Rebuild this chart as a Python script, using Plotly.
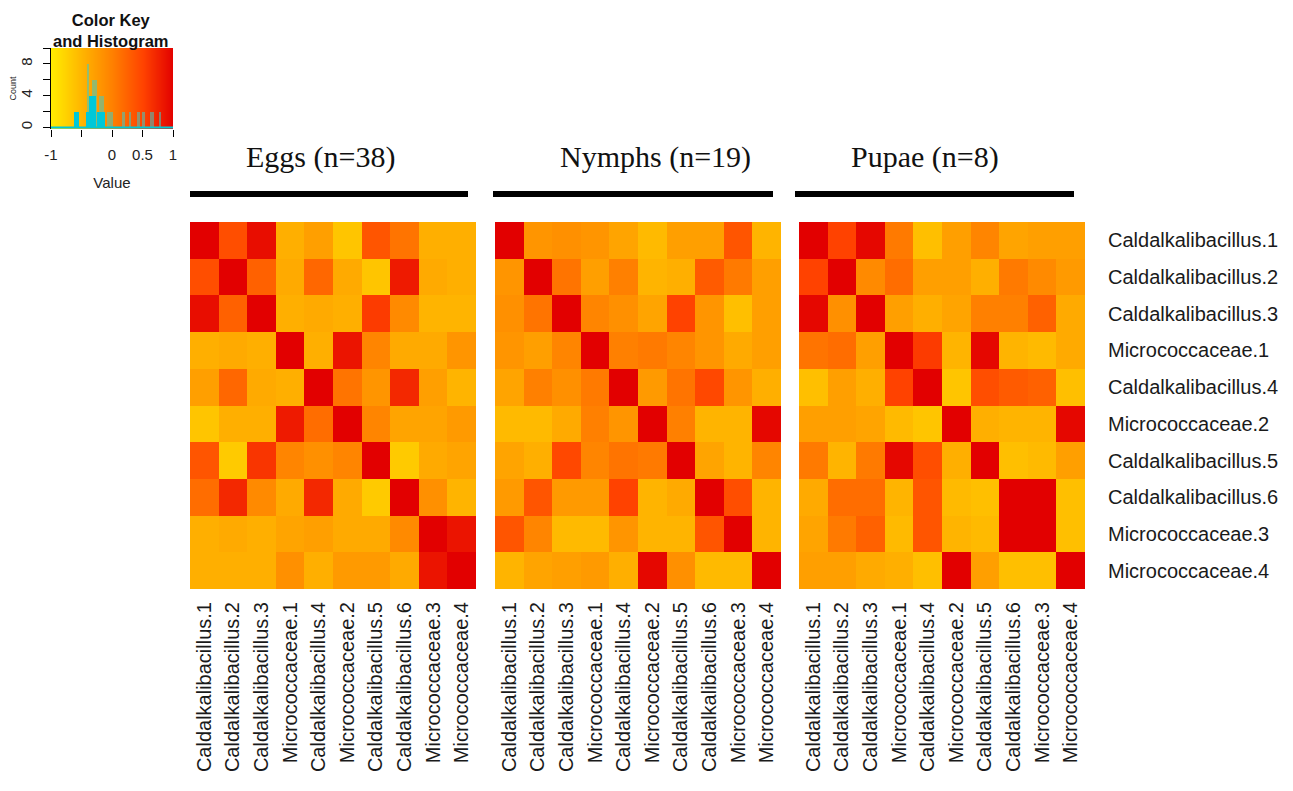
import plotly.graph_objects as go

labels = ["Caldalkalibacillus.1", "Caldalkalibacillus.2", "Caldalkalibacillus.3",
          "Micrococcaceae.1", "Caldalkalibacillus.4", "Micrococcaceae.2",
          "Caldalkalibacillus.5", "Caldalkalibacillus.6", "Micrococcaceae.3",
          "Micrococcaceae.4"]

titles = ["Eggs (n=38)", "Nymphs (n=19)", "Pupae (n=8)"]

eggs = [
    [1.00, 0.40, 0.90, -0.45, -0.30, -0.65, 0.35, 0.10, -0.45, -0.45],
    [0.40, 1.00, 0.25, -0.40, 0.20, -0.40, -0.65, 0.80, -0.40, -0.45],
    [0.90, 0.25, 1.00, -0.45, -0.40, -0.45, 0.55, -0.10, -0.50, -0.50],
    [-0.45, -0.40, -0.45, 1.00, -0.45, 0.85, -0.05, -0.40, -0.40, -0.20],
    [-0.30, 0.20, -0.40, -0.45, 1.00, 0.10, -0.20, 0.70, -0.30, -0.50],
    [-0.65, -0.45, -0.45, 0.80, 0.15, 1.00, -0.05, -0.35, -0.35, -0.25],
    [0.35, -0.70, 0.60, -0.05, -0.15, -0.05, 1.00, -0.70, -0.40, -0.35],
    [0.15, 0.70, -0.10, -0.40, 0.70, -0.40, -0.70, 1.00, -0.15, -0.50],
    [-0.45, -0.40, -0.45, -0.35, -0.30, -0.40, -0.40, -0.10, 1.00, 0.85],
    [-0.45, -0.45, -0.45, -0.15, -0.45, -0.25, -0.25, -0.40, 0.85, 1.00],
]

nymphs = [
    [1.00, -0.20, -0.15, -0.20, -0.35, -0.55, -0.30, -0.30, 0.35, -0.50],
    [-0.20, 1.00, 0.10, -0.30, 0.00, -0.50, -0.45, 0.30, 0.05, -0.30],
    [-0.15, 0.10, 1.00, -0.05, -0.15, -0.35, 0.50, -0.20, -0.60, -0.30],
    [-0.20, -0.30, -0.05, 1.00, 0.00, 0.05, -0.05, -0.20, -0.40, -0.30],
    [-0.35, 0.00, -0.15, 0.05, 1.00, -0.25, 0.10, 0.45, -0.20, -0.45],
    [-0.55, -0.55, -0.40, 0.00, -0.20, 1.00, 0.00, -0.50, -0.50, 0.95],
    [-0.35, -0.45, 0.45, -0.05, 0.10, 0.05, 1.00, -0.35, -0.50, -0.05],
    [-0.25, 0.35, -0.25, -0.25, 0.50, -0.50, -0.40, 1.00, 0.40, -0.50],
    [0.35, -0.05, -0.55, -0.55, -0.20, -0.50, -0.50, 0.35, 1.00, -0.50],
    [-0.50, -0.35, -0.30, -0.25, -0.45, 0.95, -0.15, -0.55, -0.55, 1.00],
]

pupae = [
    [1.00, 0.50, 0.95, 0.05, -0.60, -0.30, -0.05, -0.35, -0.30, -0.30],
    [0.50, 1.00, -0.10, 0.15, -0.30, -0.30, -0.45, 0.05, -0.10, -0.25],
    [0.95, -0.15, 1.00, -0.30, -0.45, -0.35, 0.00, 0.00, 0.25, -0.40],
    [0.10, 0.15, -0.30, 1.00, 0.55, -0.50, 0.95, -0.50, -0.55, -0.40],
    [-0.60, -0.30, -0.45, 0.50, 1.00, -0.65, 0.40, 0.30, 0.25, -0.60],
    [-0.30, -0.30, -0.35, -0.55, -0.65, 1.00, -0.45, -0.50, -0.50, 0.95],
    [0.05, -0.50, 0.05, 0.95, 0.40, -0.45, 1.00, -0.60, -0.55, -0.30],
    [-0.40, 0.15, 0.15, -0.50, 0.35, -0.55, -0.60, 1.00, 1.00, -0.60],
    [-0.35, 0.05, 0.25, -0.55, 0.35, -0.50, -0.55, 1.00, 1.00, -0.60],
    [-0.30, -0.30, -0.40, -0.45, -0.60, 1.00, -0.30, -0.60, -0.60, 1.00],
]

# colour key
key_values = [-1.0, -0.5, 0.0, 0.5, 1.0]
key_ticks = [-1, -0.5, 0, 0.5, 1]
key_ticktext = ["-1", "", "0", "0.5", "1"]
count_ticks = [0, 2, 4, 6, 8, 10]
count_ticktext = ["0", "", "4", "", "8", ""]

hist_solid_center = [-0.58, -0.40, -0.32, -0.18]
hist_solid_width = [0.08, 0.06, 0.12, 0.14]
hist_solid_count = [2, 2, 4, 2]
hist_faint_center = [-0.39, -0.29, -0.175, -0.03, 0.185, 0.295, 0.43, 0.515, 0.655, 0.785]
hist_faint_width = [0.03, 0.08, 0.09, 0.10, 0.04, 0.04, 0.05, 0.05, 0.06, 0.04]
hist_faint_count = [8, 6, 4, 2, 2, 2, 2, 2, 2, 2]

colorscale = [[0.0, "#FFEC00"], [0.25, "#FFB400"], [0.5, "#FF8000"],
              [0.75, "#FF4200"], [1.0, "#E20000"]]

# page body has an 8px margin; size the figure to fit inside the window
OFF = 8
W, H = 1293 - 2 * OFF, 791 - 2 * OFF


def px(x):
    return (x - OFF) / W


def py(y):
    return 1 - (y - OFF) / H


fig = go.Figure()

mats = [eggs, nymphs, pupae]
xdom = [(190, 476), (495, 781), (799, 1085)]
line_x = [(190, 468), (493, 773), (795, 1074)]
title_cx = [320, 655, 925]
ytop, ybot = 222, 589

for i, m in enumerate(mats):
    sfx = "" if i == 0 else str(i + 1)
    fig.add_trace(go.Heatmap(
        z=m, x=labels, y=labels, colorscale=colorscale, zmin=-1, zmax=1,
        showscale=False, xaxis="x" + sfx, yaxis="y" + sfx, hoverongaps=False,
    ))
    fig.update_layout(**{
        "xaxis" + sfx: dict(domain=[px(xdom[i][0]), px(xdom[i][1])], anchor="y" + sfx,
                            tickangle=-90, tickfont=dict(family="Liberation Sans", size=20, color="#1a1a1a"),
                            showgrid=False, zeroline=False, ticks="", ticklabelstandoff=8,
                            showline=False, automargin=False),
        "yaxis" + sfx: dict(domain=[py(ybot), py(ytop)], anchor="x" + sfx,
                            autorange="reversed", showgrid=False, zeroline=False,
                            ticks="", showticklabels=(i == 2), side="right",
                            tickfont=dict(family="Liberation Sans", size=20, color="#1a1a1a"),
                            ticklabelstandoff=22, showline=False, automargin=False),
    })
    fig.add_shape(type="line", xref="paper", yref="paper",
                  x0=px(line_x[i][0]), x1=px(line_x[i][1]), y0=py(194), y1=py(194),
                  line=dict(color="black", width=6))
    fig.add_annotation(text=titles[i], xref="paper", yref="paper",
                       x=px(title_cx[i]), y=py(157), xanchor="center", yanchor="middle",
                       showarrow=False, font=dict(family="Liberation Serif", size=30, color="#111"))

# colour key gradient
fig.add_trace(go.Heatmap(
    z=[key_values, key_values], x=key_values, y=[-0.2, 10],
    colorscale=colorscale, zmin=-1, zmax=1, zsmooth="best", showscale=False,
    xaxis="x4", yaxis="y4", hoverinfo="skip",
))
fig.add_trace(go.Scatter(x=[-1, 1], y=[0, 0], mode="lines", line=dict(color="#00C8D2", width=2),
                         xaxis="x4", yaxis="y4", hoverinfo="skip", showlegend=False))
fig.add_trace(go.Bar(x=hist_faint_center, y=hist_faint_count, width=hist_faint_width,
                     marker=dict(color="rgba(60,205,200,0.55)", line=dict(width=0)),
                     xaxis="x4", yaxis="y4", showlegend=False))
fig.add_trace(go.Bar(x=hist_solid_center, y=hist_solid_count, width=hist_solid_width,
                     marker=dict(color="#00C8D8", line=dict(width=0)),
                     xaxis="x4", yaxis="y4", showlegend=False))

fig.update_layout(
    xaxis4=dict(domain=[px(51), px(173)], anchor="y4", range=[-1, 1],
                tickvals=key_ticks, ticktext=key_ticktext, ticks="outside", ticklen=7,
                tickcolor="black", showline=False, showgrid=False, zeroline=False,
                automargin=False, ticklabelstandoff=5,
                tickfont=dict(family="Liberation Sans", size=15, color="#222"),
                title=dict(text="Value", font=dict(family="Liberation Sans", size=15, color="#222"),
                           standoff=15)),
    yaxis4=dict(domain=[py(129), py(48)], anchor="x4", range=[-0.2, 10],
                tickvals=count_ticks, ticktext=count_ticktext, ticks="outside", ticklen=7,
                tickcolor="black", showline=True, linecolor="black", linewidth=1,
                showgrid=False, zeroline=False, tickangle=-90, automargin=False,
                ticklabelstandoff=5,
                tickfont=dict(family="Liberation Sans", size=15, color="#222"),
                title=dict(text="Count", font=dict(family="Liberation Sans", size=9, color="#222"),
                           standoff=1)),
    barmode="overlay",
    bargap=0,
)

fig.add_annotation(text="<b>Color Key<br>and Histogram</b>", xref="paper", yref="paper",
                   x=px(111), y=py(30), xanchor="center", yanchor="middle", showarrow=False,
                   font=dict(family="Liberation Sans", size=16.5, color="#111"))

fig.update_layout(
    width=W, height=H, margin=dict(l=0, r=0, t=0, b=0),
    paper_bgcolor="white", plot_bgcolor="white", showlegend=False,
)

fig.write_html("out.html")
